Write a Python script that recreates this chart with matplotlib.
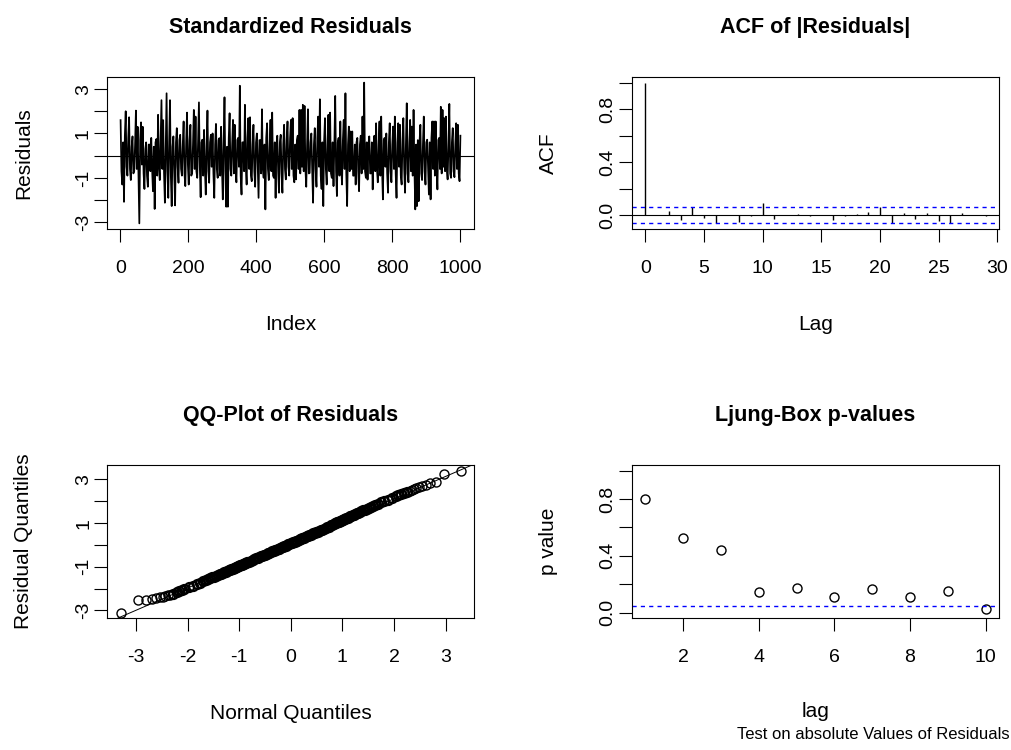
import matplotlib
matplotlib.use("Agg")
import matplotlib.pyplot as plt
import numpy as np
from statistics import NormalDist

plt.rcParams['font.family'] = ['Liberation Sans', 'DejaVu Sans']

# ---------------- data ----------------
# standardized residuals (400 samples across index 1..1000)
residuals = [
    1.6, -0.7, -1.3, 0.6, -2.08, 0.9, 2.0, -0.5, -0.9, 0.8,
    1.73, -0.6, -1.1, 0.4, 0.87, -0.8, -0.7, 0.5, 2.03, -0.6,
    1.3, -0.9, -3.05, 0.7, 1.5, -0.4, 1.3, -0.8, -1.5, 0.3,
    0.6, -0.9, -1.4, 0.5, 0.5, -0.7, 0.8, -0.6, -1.6, 0.4,
    -2.4, 0.6, 0.75, -0.9, 1.84, -0.5, -1.1, 0.7, 2.5, -0.6,
    1.6, -0.8, -2.12, 0.5, 2.81, -0.7, -1.9, 0.6, 2.5, -0.9,
    -2.27, 0.4, 0.87, -0.8, -2.24, 0.6, 1.24, -0.5, -1.22, 0.7,
    0.94, -0.6, -0.9, 0.5, 1.54, -0.8, -1.37, 0.6, 1.94, -0.4,
    -1.3, 0.7, 1.39, -0.9, -0.8, 0.5, 2.06, -0.6, 1.76, -0.7,
    -1.0, 0.8, 2.4, -0.5, -1.87, 0.6, 0.72, -0.9, 1.16, -0.6,
    -1.75, 0.4, 2.03, -0.7, -1.22, 0.6, 0.94, -0.5, 1.0, -0.8,
    -1.9, 0.5, 1.43, -0.6, -1.0, 0.7, 0.79, -0.9, 1.3, -0.5,
    -1.97, 0.6, 2.63, -0.7, -2.3, 0.4, -2.3, 0.8, 1.91, -0.6,
    -0.9, 0.5, 1.61, -0.8, 1.39, -0.6, -1.2, 0.7, 0.8, -0.5,
    3.15, -0.9, -1.75, 0.6, 0.6, -0.7, 2.29, -0.5, -1.3, 0.8,
    1.69, -0.6, 1.73, -0.9, -1.15, 0.5, 1.39, -0.7, -1.4, 0.6,
    1.0, -0.5, -1.9, 0.7, 0.7, -0.8, 2.09, -0.6, -1.0, 0.5,
    -2.42, 0.8, 1.46, -0.6, -1.1, 0.4, 1.61, -0.7, 1.94, -0.9,
    -1.0, 0.6, -1.9, 0.5, 0.9, -0.7, -1.67, 0.6, 0.94, -0.8,
    -1.67, 0.5, 1.39, -0.6, -1.07, 0.7, 1.54, -0.5, -0.9, 0.8,
    1.61, -0.6, 1.69, -0.9, -1.2, 0.5, -1.07, 0.7, 0.9, -0.6,
    2.06, -0.8, 2.06, -0.5, 2.29, -0.7, 2.24, -0.6, -1.4, 0.5,
    2.09, -0.8, -0.78, 0.6, 1.0, -0.7, -2.12, 0.5, 1.24, -0.6,
    -1.4, 0.8, 1.76, -0.5, 2.54, -0.9, -1.5, 0.6, -2.27, 0.7,
    1.69, -0.6, -1.3, 0.5, 1.84, -0.7, 1.94, -0.8, -1.0, 0.6,
    -1.37, 0.5, 2.69, -0.7, -1.82, 0.6, 0.8, -0.9, 1.54, -0.5,
    -1.3, 0.7, 1.61, -0.6, 2.81, -0.8, -2.27, 0.5, 1.31, -0.7,
    1.09, -0.6, 1.09, -0.9, -0.9, 0.5, -1.3, 0.6, 0.8, -0.7,
    -1.6, 0.5, 0.9, -0.8, 1.76, -0.6, 3.29, -0.7, -1.0, 0.6,
    -1.08, 0.5, 0.87, -0.8, -0.8, 0.6, -1.52, 0.4, 0.9, -0.7,
    1.46, -0.6, -1.2, 0.5, 1.54, -0.9, 1.76, -0.6, -1.97, 0.7,
    0.8, -0.5, 1.0, -0.8, -1.67, 0.6, 1.46, -0.7, -1.2, 0.5,
    1.31, -0.6, 1.76, -0.8, -1.9, 0.6, 1.46, -0.5, 1.39, -0.9,
    -1.3, 0.7, 1.69, -0.6, -1.67, 0.5, 2.36, -0.8, -1.2, 0.6,
    1.61, -0.7, 1.31, -0.9, 2.06, -0.6, -2.42, 0.5, -2.27, 0.7,
    -2.05, 0.6, 1.39, -0.8, -1.1, 0.5, 1.76, -0.7, -1.3, 0.6,
    0.72, -0.5, -1.75, 0.6, -1.97, 0.8, 1.54, -0.6, 1.54, -0.9,
    1.54, -0.5, -1.52, 0.7, 0.8, -0.6, 2.2, -0.8, 2.06, -0.5,
    1.69, -0.7, 1.76, -0.6, -1.07, 0.5, 2.33, -0.8, -1.0, 0.6,
    1.24, -0.7, -0.97, 0.5, 1.46, -0.6, 1.39, -0.8, -1.15, 0.9,
]
n_obs = 1000

# QQ plot: sorted residuals at selected ranks (of n_obs)
qq_ranks = [1, 2, 3, 4, 5, 6, 7, 8, 9, 10, 12, 14, 16, 18, 20,
            25, 30, 35, 40, 45, 50, 55, 60, 65, 70, 75, 80, 85, 90, 95, 100,
            105, 110, 115, 120, 125, 130, 135, 140, 145, 150,
            155, 160, 165, 170, 175, 180, 185, 190, 195, 200,
            210, 220, 230, 240, 250, 260, 270, 280, 290, 300,
            310, 320, 330, 340, 350, 360, 370, 380, 390, 400,
            410, 420, 430, 440, 450, 460, 470, 480, 490, 500,
            510, 520, 530, 540, 550, 560, 570, 580, 590, 600,
            610, 620, 630, 640, 650, 660, 670, 680, 690, 700,
            710, 720, 730, 740, 750, 760, 770, 780, 790, 800,
            805, 810, 815, 820, 825, 830, 835, 840, 845, 850,
            855, 860, 865, 870, 875, 880, 885, 890, 895, 900,
            905, 910, 915, 920, 925, 930, 935, 940, 945, 950, 955, 960, 965, 970, 975,
            980, 982, 984, 986, 988, 990, 991, 992, 993, 994, 995, 996, 997, 998, 999, 1000]
qq_sample = [-3.10, -2.51, -2.50, -2.47, -2.43, -2.40, -2.37, -2.34, -2.31, -2.28, -2.23, -2.17, -2.12, -2.07, -2.03,
             -1.94, -1.86, -1.79, -1.73, -1.67, -1.62, -1.57, -1.53, -1.49, -1.45, -1.41, -1.38, -1.34, -1.31, -1.28, -1.25,
             -1.22, -1.19, -1.16, -1.14, -1.115, -1.09, -1.065, -1.04, -1.02, -1.00,
             -0.98, -0.96, -0.94, -0.92, -0.90, -0.88, -0.86, -0.84, -0.82, -0.80,
             -0.77, -0.73, -0.70, -0.66, -0.62, -0.59, -0.56, -0.53, -0.50, -0.47,
             -0.44, -0.41, -0.38, -0.36, -0.33, -0.30, -0.27, -0.25, -0.22, -0.19,
             -0.17, -0.14, -0.11, -0.09, -0.06, -0.03, -0.01, 0.02, 0.05, 0.07,
             0.10, 0.12, 0.14, 0.17, 0.20, 0.23, 0.25, 0.28, 0.31, 0.33,
             0.36, 0.39, 0.42, 0.44, 0.47, 0.50, 0.53, 0.55, 0.58, 0.61,
             0.64, 0.67, 0.70, 0.73, 0.76, 0.80, 0.83, 0.89, 0.93, 0.97,
             0.99, 1.01, 1.03, 1.05, 1.07, 1.09, 1.115, 1.14, 1.16, 1.18,
             1.205, 1.23, 1.255, 1.28, 1.305, 1.33, 1.36, 1.39, 1.42, 1.45,
             1.48, 1.51, 1.55, 1.58, 1.62, 1.66, 1.70, 1.74, 1.79, 1.84, 1.89, 1.95, 2.01, 2.08, 2.16,
             2.25, 2.29, 2.34, 2.39, 2.44, 2.49, 2.52, 2.56, 2.60, 2.65, 2.70, 2.75, 2.82, 2.86, 3.23, 3.40]

# ACF of |residuals|
acf_lags = list(range(0, 31))
acf_vals = [1.0, 0.004, 0.030, -0.037, 0.062, -0.025, -0.062, 0.004, -0.050, -0.003,
            0.092, -0.027, 0.003, 0.012, -0.004, 0.003, -0.037, -0.003, 0.012, 0.022,
            0.062, -0.062, 0.020, -0.027, 0.020, -0.045, -0.062, 0.020, 0.003, -0.004, 0.002]
acf_ci = 0.062

# Ljung-Box p-values
lb_lags = [1, 2, 3, 4, 5, 6, 7, 8, 9, 10]
lb_pvals = [0.80, 0.526, 0.442, 0.144, 0.174, 0.109, 0.163, 0.109, 0.153, 0.023]
lb_level = 0.05

# ---------------- figure ----------------
W, H = 1011, 750
fig = plt.figure(figsize=(W / 100, H / 100), dpi=100)

def px_axes(x0, y0, x1, y1):
    return fig.add_axes([x0 / W, 1 - y1 / H, (x1 - x0) / W, (y1 - y0) / H])

TICK_FS = 14
LAB_FS = 15
TITLE_FS = 15.5
TICK_LEN = 9.4
XTICK_PAD = 13
YTICK_PAD = 1.5

def style(ax, title, xlabel, ylabel, xticks, xlabels, yticks, ylabels):
    for s in ax.spines.values():
        s.set_linewidth(0.8)
        s.set_color('black')
    ax.set_xticks(xticks)
    ax.set_xticklabels(xlabels)
    ax.set_yticks(yticks)
    ax.set_yticklabels(ylabels)
    ax.tick_params(direction='out', length=TICK_LEN, width=0.8,
                   labelsize=TICK_FS, colors='black')
    ax.tick_params(axis='x', pad=XTICK_PAD)
    ax.tick_params(axis='y', pad=YTICK_PAD)
    for lab in ax.get_yticklabels():
        lab.set_rotation(90)
        lab.set_va('center')
        lab.set_ha('right')
    ax.set_title(title, fontsize=TITLE_FS, fontweight='bold', pad=31.5)
    ax.set_xlabel(xlabel, fontsize=LAB_FS)
    ax.set_ylabel(ylabel, fontsize=LAB_FS)
    h = ax.get_position().height * H
    w = ax.get_position().width * W
    ax.xaxis.set_label_coords(0.5, -86 / h)
    ax.yaxis.set_label_coords(-74 / w, 0.5)

# --- Standardized residuals ---
ax1 = px_axes(107, 77, 474, 229)
idx = np.linspace(1, n_obs, len(residuals))
ax1.plot(idx, residuals, color='black', lw=1.25)
ax1.axhline(0, color='black', lw=0.8)
xr = (1, n_obs)
pad = 0.04 * (xr[1] - xr[0])
ax1.set_xlim(xr[0] - pad, xr[1] + pad)
yr = (min(residuals), max(residuals))
pad = 0.04 * (yr[1] - yr[0])
ax1.set_ylim(yr[0] - pad, yr[1] + pad)
style(ax1, 'Standardized Residuals', 'Index', 'Residuals',
      [0, 200, 400, 600, 800, 1000], ['0', '200', '400', '600', '800', '1000'],
      [-3, -2, -1, 0, 1, 2, 3], ['-3', '', '-1', '', '1', '', '3'])

# --- ACF ---
ax2 = px_axes(631.7, 77, 999, 229)
ax2.vlines(acf_lags, 0, acf_vals, color='black', lw=1.0)
ax2.axhline(0, color='black', lw=0.8)
for c in (acf_ci, -acf_ci):
    ax2.axhline(c, color='blue', lw=1.0, dashes=(3, 3))
ax2.set_xlim(-1.17, 30.14)
lo = min(min(acf_vals), -acf_ci)
hi = max(max(acf_vals), acf_ci)
pad = 0.04 * (hi - lo)
ax2.set_ylim(lo - pad, hi + pad)
style(ax2, 'ACF of |Residuals|', 'Lag', 'ACF',
      [0, 5, 10, 15, 20, 25, 30], ['0', '5', '10', '15', '20', '25', '30'],
      [0, 0.2, 0.4, 0.6, 0.8, 1.0], ['0.0', '', '0.4', '', '0.8', ''])

# --- QQ plot ---
ax3 = px_axes(107.3, 465, 474.3, 618.3)
nd = NormalDist()
theo = np.array([nd.inv_cdf((r - 0.5) / n_obs) for r in qq_ranks])
samp = np.array(qq_sample)
core = np.abs(theo) < 2.3
ax3.plot(theo[~core], samp[~core], 'o', mfc='none', mec='black', ms=6.5, mew=1.0)
ax3.plot(theo[core], samp[core], 'o', mfc='none', mec='black', ms=6.5, mew=1.6)
q1 = np.interp(1 + 0.25 * (n_obs - 1), qq_ranks, qq_sample)
q3 = np.interp(1 + 0.75 * (n_obs - 1), qq_ranks, qq_sample)
z1, z3 = nd.inv_cdf(0.25), nd.inv_cdf(0.75)
slope = (q3 - q1) / (z3 - z1)
icpt = q1 - slope * z1
ax3.axline((0, icpt), slope=slope, color='black', lw=0.7)
xr = (theo.min(), theo.max())
pad = 0.04 * (xr[1] - xr[0])
ax3.set_xlim(xr[0] - pad, xr[1] + pad)
yr = (samp.min(), samp.max())
pad = 0.04 * (yr[1] - yr[0])
ax3.set_ylim(yr[0] - pad, yr[1] + pad)
style(ax3, 'QQ-Plot of Residuals', 'Normal Quantiles', 'Residual Quantiles',
      [-3, -2, -1, 0, 1, 2, 3], ['-3', '-2', '-1', '0', '1', '2', '3'],
      [-3, -2, -1, 0, 1, 2, 3], ['-3', '', '-1', '', '1', '', '3'])

# --- Ljung-Box ---
ax4 = px_axes(631.7, 465, 999.3, 618.3)
ax4.plot(lb_lags, lb_pvals, 'o', mfc='none', mec='black', ms=6.5, mew=1.0)
ax4.axhline(lb_level, color='blue', lw=1.0, dashes=(3, 3))
ax4.set_xlim(1 - 0.04 * 9, 10 + 0.04 * 9)
ax4.set_ylim(-0.04, 1.04)
style(ax4, 'Ljung-Box p-values', 'lag', 'p value',
      [2, 4, 6, 8, 10], ['2', '4', '6', '8', '10'],
      [0, 0.2, 0.4, 0.6, 0.8, 1.0], ['0.0', '', '0.4', '', '0.8', ''])
ax4.xaxis.set_label_coords(0.5, -84 / 153.3)
fig.text(873 / W, 1 - 739 / H, 'Test on absolute Values of Residuals',
         fontsize=12, ha='center', va='baseline')

fig.savefig('out.png', dpi=100)
